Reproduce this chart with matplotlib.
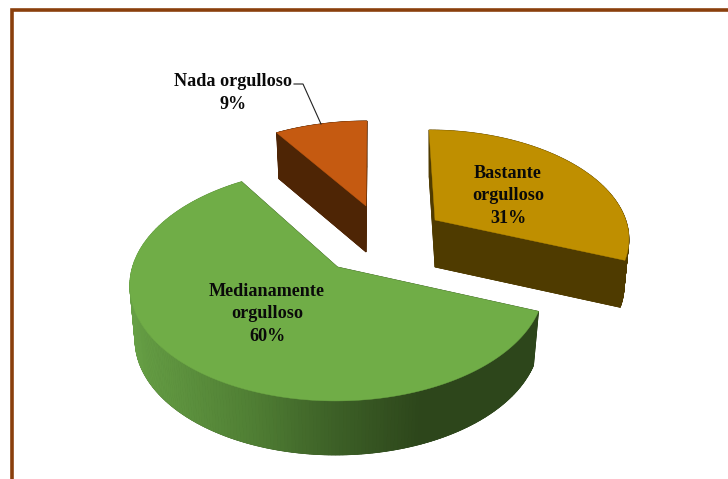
import numpy as np
import matplotlib
matplotlib.use('Agg')
import matplotlib.pyplot as plt
from matplotlib.colors import LinearSegmentedColormap

# datos
categorias = ['Bastante\norgulloso', 'Medianamente\norgulloso', 'Nada orgulloso']
valores = [31, 60, 9]

# estilo de cada porcion
color_tapa = ['#BF8F00', '#70AD47', '#C55A11']
color_lado = ['#4F3B00', '#2D461B', '#4E2505']
pos_texto = [(508, 196), (267, 314), (233, 93)]

# perspectiva del pastel 3D (en pixeles de la imagen)
vertice = [(435, 220), (337.5, 267), (366, 206)]
escala_x = [0.935, 1.005, 0.93]
escala_y = [0.90, 0.99, 0.85]
inclinacion = [-6, 2, 1]
grosor = [47, 54, 46]
R, S, K = 204, 115, 0.15
ENCOGE = 0.975


def proyecta(i, ang, r=1.0, abajo=False):
    u = r * np.sin(ang)
    v = r * np.cos(ang)
    d = 1 + K * v
    x = R * escala_x[i] * u / d + inclinacion[i] * v
    y = -S * escala_y[i] * v / d
    if abajo:
        return vertice[i][0] + x * ENCOGE, vertice[i][1] + y + grosor[i]
    return vertice[i][0] + x, vertice[i][1] + y


fig = plt.figure(figsize=(7.28, 4.79), dpi=100)
ax = fig.add_axes([0, 0, 1, 1])
ax.set_xlim(0, 728)
ax.set_ylim(479, 0)
ax.axis('off')

# marco marron (se corta a la derecha y abajo)
ax.plot([11.5, 11.5, 728], [479, 9.5, 9.5], color='#8A3F0C', lw=2.6,
        solid_joinstyle='miter', zorder=1)

# gradiente del lado verde
grad_verde = LinearSegmentedColormap.from_list(
    'verde', [(0, '#669F45'), (0.3, '#507F34'), (0.5, '#3D6127'), (0.72, '#2D461B'), (1, '#2D461B')])

limites = np.cumsum([0] + valores) / sum(valores) * 2 * np.pi
for i in [2, 0, 1]:
    ang = np.linspace(limites[i], limites[i + 1], 241)
    xt, yt = proyecta(i, ang)
    xb, yb = proyecta(i, ang, abajo=True)
    x0, y0 = proyecta(i, 0, r=0)
    x1, y1 = proyecta(i, 0, r=0, abajo=True)

    # cara inferior y caras radiales
    ax.fill(np.r_[x1, xb], np.r_[y1, yb], color=color_lado[i], lw=0.5, zorder=2)
    for k in [0, -1]:
        ax.fill([x0, xt[k], xb[k], x1], [y0, yt[k], yb[k], y1], color=color_lado[i], lw=0.5, zorder=2)

    # pared exterior
    for j in range(len(ang) - 1):
        if i == 1:
            c = grad_verde((xt[j] - 129) / (538 - 129))
        else:
            c = color_lado[i]
        ax.fill([xt[j], xt[j + 1], xb[j + 1], xb[j]], [yt[j], yt[j + 1], yb[j + 1], yb[j]],
                color=c, lw=0.6, zorder=2)

    # tapa
    ax.fill(np.r_[x0, xt], np.r_[y0, yt], color=color_tapa[i], lw=0.3, zorder=3)

# etiquetas
for cat, val, pos in zip(categorias, valores, pos_texto):
    ax.text(pos[0], pos[1], f'{cat}\n{val}%', ha='center', va='center', ma='center',
            family='Liberation Serif', fontweight='bold', fontsize=13.1, linespacing=1.45,
            color='#0A0A0A', zorder=5)

# linea guia de "Nada orgulloso"
ax.plot([294, 303, 321], [84, 84, 124], color='#222222', lw=0.8, zorder=4)

fig.savefig('out.png', dpi=100)
